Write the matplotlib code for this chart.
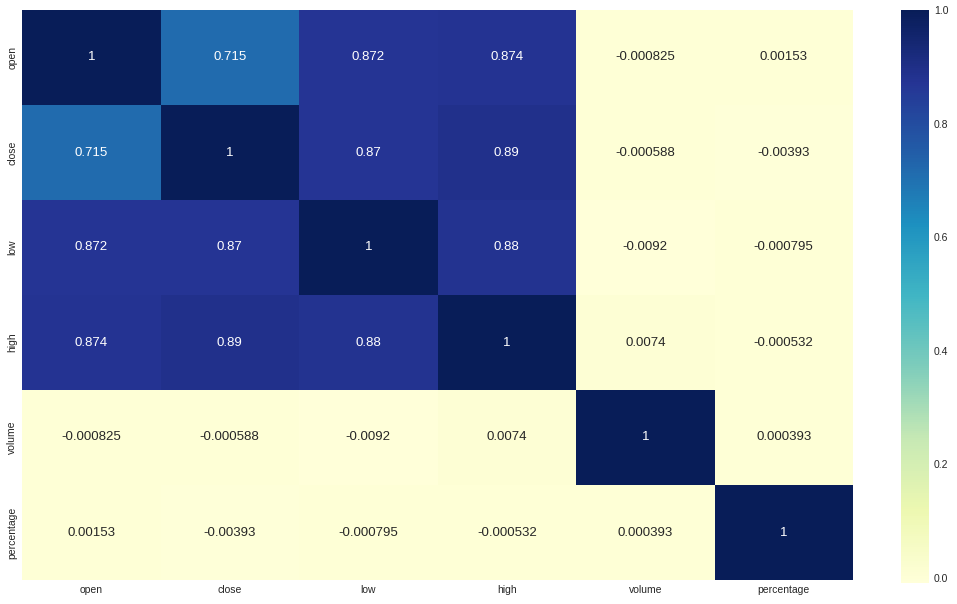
import numpy as np
import pandas as pd
import seaborn as sns
import matplotlib
matplotlib.use('Agg')
import matplotlib.pyplot as plt

labels = ['open', 'close', 'low', 'high', 'volume', 'percentage']
open_col = [1, 0.715, 0.872, 0.874, -0.000825, 0.00153]
close_col = [0.715, 1, 0.87, 0.89, -0.000588, -0.00393]
low_col = [0.872, 0.87, 1, 0.88, -0.0092, -0.000795]
high_col = [0.874, 0.89, 0.88, 1, 0.0074, -0.000532]
volume_col = [-0.000825, -0.000588, -0.0092, 0.0074, 1, 0.000393]
percentage_col = [0.00153, -0.00393, -0.000795, -0.000532, 0.000393, 1]


def main():
    sns.set_style('darkgrid')
    plt.rcParams['font.family'] = ['Liberation Sans', 'DejaVu Sans']
    corr = pd.DataFrame({'open': open_col, 'close': close_col, 'low': low_col,
                         'high': high_col, 'volume': volume_col,
                         'percentage': percentage_col}, index=labels)

    fig = plt.figure(figsize=(9.57, 6.04), dpi=100)
    ax = fig.add_axes([22 / 957, 24 / 604, (853 - 22) / 957, (594 - 24) / 604])
    cax = fig.add_axes([901 / 957, 21 / 604, 28 / 957, (594 - 21) / 604])
    sns.heatmap(corr, annot=True, fmt='.3g', cmap='YlGnBu', ax=ax, cbar_ax=cax,
                annot_kws={'fontsize': 9.5})
    ax.tick_params(axis='both', labelsize=7.5, colors='#262626', length=0)
    cax.tick_params(labelsize=7.5, colors='#262626', length=0)
    cax.grid(False)
    fig.savefig('out.png', dpi=100)


if __name__ == "__main__":
    main()
